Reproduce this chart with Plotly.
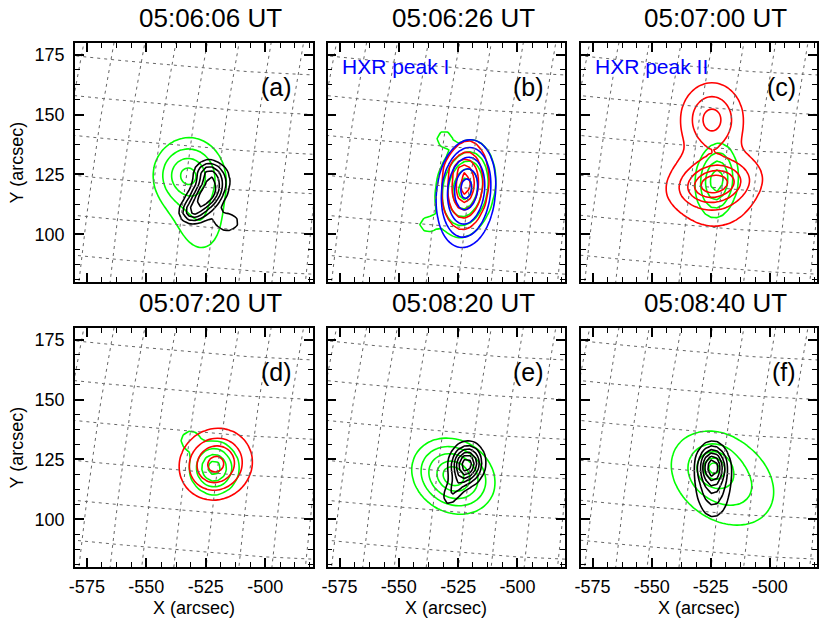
import numpy as np
import plotly.graph_objects as go

times = ["05:06:06 UT", "05:06:26 UT", "05:07:00 UT",
         "05:07:20 UT", "05:08:20 UT", "05:08:40 UT"]
tags = ["(a)", "(b)", "(c)", "(d)", "(e)", "(f)"]
hxr_notes = {1: "HXR peak I", 2: "HXR peak II"}

x_ticks = [-575, -550, -525, -500]
x_ticktext = ["-575", "-550", "-525", "-500"]
y_ticks = [100, 125, 150, 175]

# heliographic grid (degrees)
grid_lat = list(range(4, 24))
grid_lon = list(range(-48, -18))
B0 = 7.0
R_SUN = 955.0

# emission sources: (x0, y0, sigma_major, sigma_minor, angle_deg, amplitude)
a_green = [(-533, 125, 6.5, 6.5, 0, 0.8), (-530, 120, 11.0, 8.0, 95, 0.35),
           (-527, 104, 8.0, 5.5, 95, 0.18)]
a_black = [(-524.5, 116.5, 6.5, 4.0, 49, 0.75), (-524, 126, 4.0, 3.5, 0, 0.4),
           (-516, 105, 4.5, 3.5, 0, 0.25), (-531, 109, 3.5, 3.0, 0, 0.28)]
b_blue = [(-521.5, 121, 9.0, 5.5, 82, 0.8), (-522, 110, 10.0, 6.5, 82, 0.3)]
b_red = [(-522, 120.5, 9.5, 5.0, 85, 1.0), (-525, 128, 3.0, 2.5, 0, 0.15)]
b_green = [(-522, 119, 10.0, 6.0, 80, 1.0), (-531, 140, 2.5, 2.5, 0, 0.22),
           (-538, 104, 3.0, 2.5, 0, 0.2)]
c_red = [(-524.5, 148, 7.2, 6.2, 90, 0.5), (-523.5, 121, 8.0, 4.5, 10, 0.7),
         (-523.5, 121, 9.0, 9.0, 0, 0.35)]
c_green = [(-522.5, 122.5, 8.0, 4.6, 85, 1.0)]
d_red = [(-520.8, 123, 7.3, 6.8, 35, 1.0)]
d_green = [(-521.5, 121.5, 5.4, 5.0, 90, 1.0), (-531.5, 133, 3.0, 3.0, 0, 0.25)]
e_green = [(-527, 118, 8.5, 7.0, -30, 1.0)]
e_black = [(-521.4, 123, 5.0, 4.0, 80, 1.0), (-527, 112, 5.0, 2.5, 60, 0.3)]
f_green = [(-524, 122, 5.0, 5.0, 0, 0.6), (-520, 117, 13.0, 9.5, -35, 0.55)]
f_black = [(-524.3, 122.5, 5.0, 3.5, 90, 0.8), (-524, 113, 8.0, 4.5, 90, 0.35)]

lev_a_green = [0.1, 0.3, 0.6, 0.9]
lev_a_black = [0.2, 0.35, 0.5, 0.65, 0.8]
lev_b_blue = [0.1, 0.2, 0.4, 0.7, 0.92]
lev_b_red = [0.15, 0.35, 0.55, 0.75, 0.92]
lev_b_green = [0.12, 0.3, 0.5, 0.7, 0.9]
lev_c_red = [0.05, 0.2, 0.4, 0.6, 0.8]
lev_c_green = [0.15, 0.35, 0.6, 0.85]
lev_d_red = [0.1, 0.3, 0.55, 0.9]
lev_d_green = [0.12, 0.35, 0.6, 0.88]
lev_e_green = [0.1, 0.25, 0.45, 0.7, 0.87]
lev_e_black = [0.15, 0.3, 0.45, 0.6, 0.75, 0.9]
lev_f_green = [0.1, 0.3, 0.55, 0.8, 0.95]
lev_f_black = [0.12, 0.25, 0.4, 0.55, 0.7, 0.85]

GREEN = "#00ff00"
RED = "#ff0000"
BLUE = "#0000ff"
BLACK = "#000000"

# (components, levels, colour, image pixel size in arcsec)
panels = [
    [(a_green, lev_a_green, GREEN, 1.5), (a_black, lev_a_black, BLACK, 2.4)],
    [(b_green, lev_b_green, GREEN, 2.4), (b_red, lev_b_red, RED, 2.4),
     (b_blue, lev_b_blue, BLUE, 1.5)],
    [(c_green, lev_c_green, GREEN, 2.4), (c_red, lev_c_red, RED, 1.5)],
    [(d_green, lev_d_green, GREEN, 2.4), (d_red, lev_d_red, RED, 1.5)],
    [(e_green, lev_e_green, GREEN, 1.5), (e_black, lev_e_black, BLACK, 2.4)],
    [(f_green, lev_f_green, GREEN, 1.5), (f_black, lev_f_black, BLACK, 2.4)],
]


def field(comps, step):
    gx = np.arange(-580, -479.9, step)
    gy = np.arange(80, 180.1, step)
    GX, GY = np.meshgrid(gx, gy)
    z = np.zeros_like(GX)
    for x0, y0, smaj, smin, ang, amp in comps:
        t = np.radians(ang)
        u = (GX - x0) * np.cos(t) + (GY - y0) * np.sin(t)
        v = -(GX - x0) * np.sin(t) + (GY - y0) * np.cos(t)
        z += amp * np.exp(-0.5 * ((u / smaj) ** 2 + (v / smin) ** 2))
    return gx, gy, z / z.max()


def helio(lat, lon):
    lat = np.radians(lat)
    lon = np.radians(lon)
    b = np.radians(B0)
    x = R_SUN * np.cos(lat) * np.sin(lon)
    y = R_SUN * (np.cos(b) * np.sin(lat) - np.sin(b) * np.cos(lat) * np.cos(lon))
    return x, y


W, H = 830, 628
cols_px = [(69.5, 309), (324, 563), (579, 817)]
rows_px = [(43, 282), (328, 567)]
FONT = "Liberation Sans, Arial, sans-serif"

fig = go.Figure()
annotations = []
layout = dict(width=W, height=H, margin=dict(l=0, r=0, t=0, b=0),
              paper_bgcolor="white", plot_bgcolor="white", showlegend=False,
              font=dict(family=FONT, size=18, color="black"))

for i in range(6):
    r, c = divmod(i, 3)
    n = i + 1
    xa = "x" if n == 1 else f"x{n}"
    ya = "y" if n == 1 else f"y{n}"
    xdom = [cols_px[c][0] / W, cols_px[c][1] / W]
    ydom = [1 - rows_px[r][1] / H, 1 - rows_px[r][0] / H]

    # dotted heliographic grid
    gxs, gys = [], []
    lon_s = np.linspace(-60, -10, 201)
    for lat in grid_lat:
        x, y = helio(lat, lon_s)
        gxs += list(x) + [None]
        gys += list(y) + [None]
    lat_s = np.linspace(-5, 30, 141)
    for lon in grid_lon:
        x, y = helio(lat_s, lon)
        gxs += list(x) + [None]
        gys += list(y) + [None]
    fig.add_trace(go.Scatter(x=gxs, y=gys, mode="lines", xaxis=xa, yaxis=ya,
                             line=dict(color="#666666", width=1, dash="3px,4px"),
                             hoverinfo="skip"))

    for comps, levels, color, step in panels[i]:
        gx, gy, z = field(comps, step)
        for lv in levels:
            fig.add_trace(go.Contour(
                x=gx, y=gy, z=z, xaxis=xa, yaxis=ya, autocontour=False,
                contours=dict(start=lv, end=lv, size=1, coloring="none"),
                line=dict(color=color, width=1.6,
                          smoothing=0.8 if step < 2 else 0.2),
                showscale=False, hoverinfo="skip"))

    axis_common = dict(ticks="inside", mirror="ticks", showline=True,
                       linecolor="black", linewidth=1.6, tickwidth=1.5,
                       ticklen=9, tickcolor="black", showgrid=False,
                       zeroline=False, tickfont=dict(size=18, family=FONT))
    layout["xaxis" + ("" if n == 1 else str(n))] = dict(
        axis_common, domain=xdom, range=[-580, -480], anchor=ya,
        tickmode="array", tickvals=x_ticks, ticktext=x_ticktext,
        showticklabels=(r == 1), ticklabelstandoff=3,
        minor=dict(ticks="inside", ticklen=5, tickmode="linear",
                   tick0=-575, dtick=6.25, tickcolor="black", tickwidth=1.2))
    layout["yaxis" + ("" if n == 1 else str(n))] = dict(
        axis_common, domain=ydom, range=[80, 180], anchor=xa,
        tickmode="array", tickvals=y_ticks,
        showticklabels=(c == 0), ticklabelstandoff=5,
        minor=dict(ticks="inside", ticklen=5, tickmode="linear",
                   tick0=100, dtick=6.25, tickcolor="black", tickwidth=1.2))

    annotations.append(dict(text=times[i], xref="paper", yref="paper",
                            x=sum(xdom) / 2 + 17 / W, y=1 - (rows_px[r][0] - 25) / H,
                            showarrow=False, font=dict(size=26),
                            xanchor="center", yanchor="middle"))
    annotations.append(dict(text=tags[i], xref=f"{xa} domain", yref=f"{ya} domain",
                            x=0.92, y=0.817, showarrow=False, font=dict(size=25),
                            xanchor="right", yanchor="middle"))
    if i in hxr_notes:
        annotations.append(dict(text=hxr_notes[i], xref=f"{xa} domain",
                                yref=f"{ya} domain", x=0.053, y=0.901,
                                showarrow=False, font=dict(size=21, color=BLUE),
                                xanchor="left", yanchor="middle"))
    if c == 0:
        annotations.append(dict(text="Y (arcsec)", xref="paper", yref="paper",
                                x=12 / W, y=sum(ydom) / 2, textangle=-90,
                                showarrow=False, font=dict(size=18),
                                xanchor="center", yanchor="middle"))
    if r == 1:
        annotations.append(dict(text="X (arcsec)", xref="paper", yref="paper",
                                x=sum(xdom) / 2, y=1 - 608 / H,
                                showarrow=False, font=dict(size=18),
                                xanchor="center", yanchor="middle"))

layout["annotations"] = annotations
fig.update_layout(**layout)
fig.write_html("out.html", config={"displayModeBar": False},
               post_script="document.body.style.margin='0';")
